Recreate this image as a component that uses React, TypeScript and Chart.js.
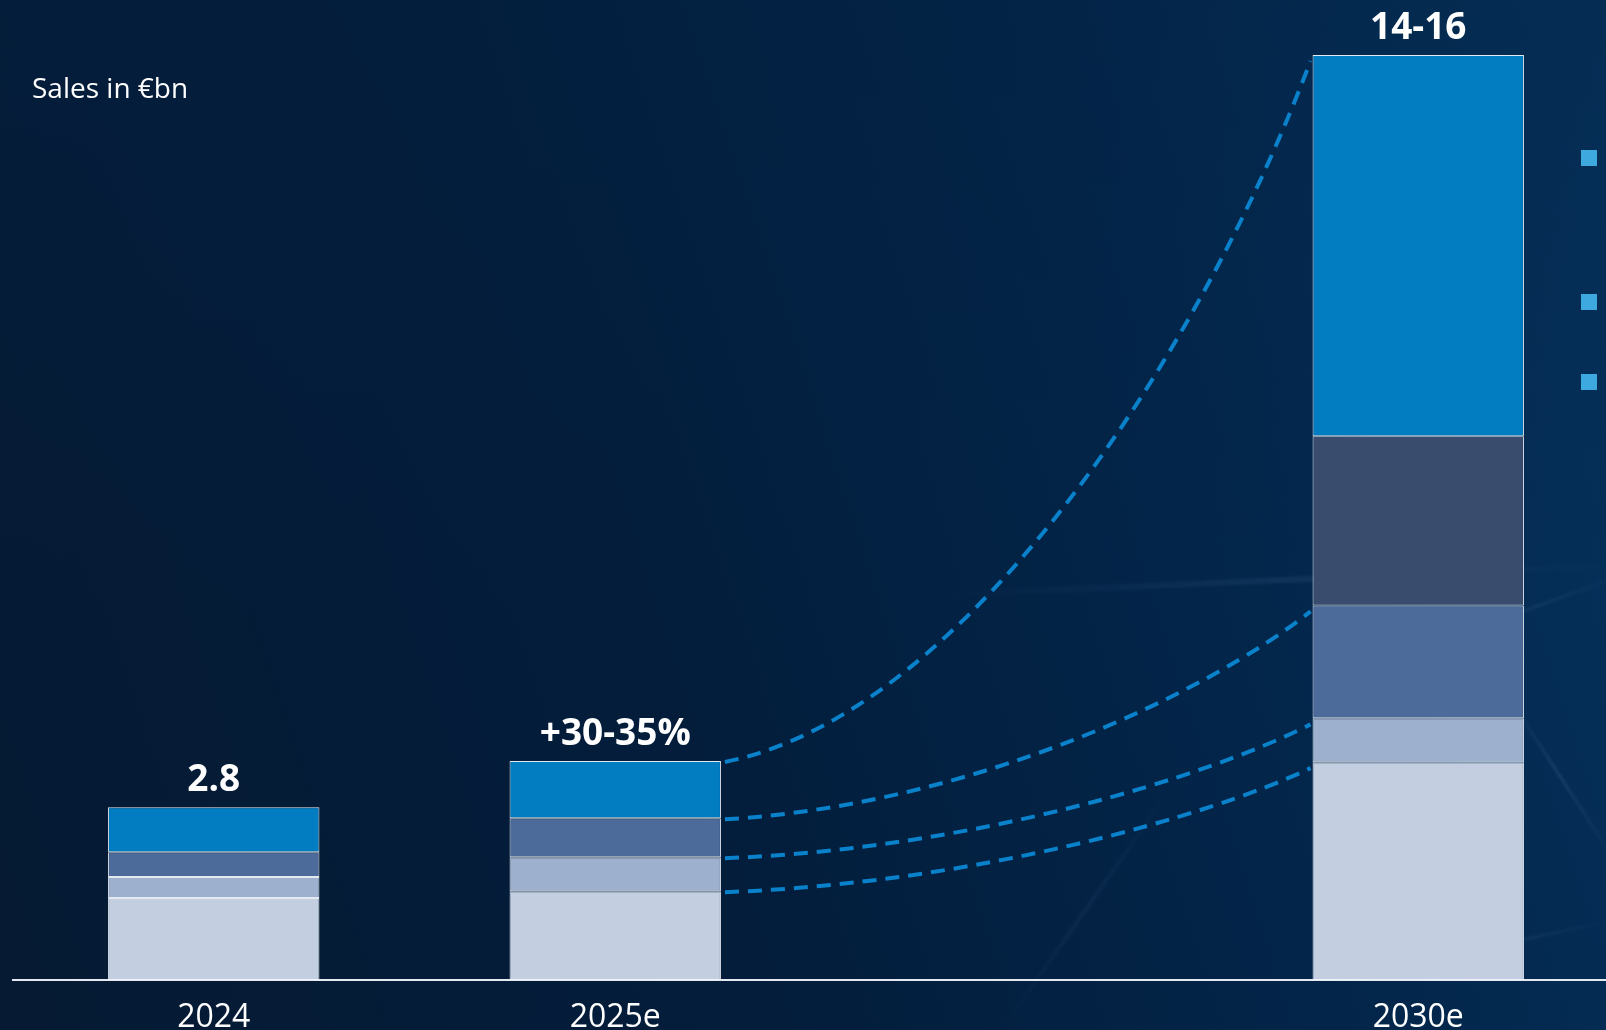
import React, { useEffect, useRef } from 'react';
import { Chart, registerables } from 'chart.js';

Chart.register(...registerables);

// ---- data (€bn) ----
const CATEGORIES = ['2024', '2025e', '', '2030e'];
const SEG_BASE = [1.33, 1.44, null, 3.53];
const SEG_LIGHT_BLUE = [0.34, 0.55, null, 0.71];
const SEG_MID_BLUE = [0.4, 0.63, null, 1.83];
const SEG_SLATE = [null, null, null, 2.74];
const SEG_BRIGHT = [0.73, 0.93, null, 6.18];
const TOTAL_LABELS = ['2.8', '+30-35%', '', '14-16'];
const SERIES_NAMES = ['Segment 1', 'Segment 2', 'Segment 3', 'Segment 4', 'Segment 5'];
// connectors from 2025e to 2030e, joining the top of these stacked datasets
const CONNECTOR_FROM = 1;
const CONNECTOR_TO = 3;
const CONNECTOR_LEVELS = [0, 1, 2, 4];

const COLORS = ['#c3cfe1', '#9db0ce', '#4c6b9a', '#394c6d', '#037dc1'];
const FONT = '"Open Sans", "Noto Sans", sans-serif';

const stackTopsPlugin = {
  id: 'stackTops',
  afterDatasetsDraw(chart: any) {
    const { ctx } = chart;
    const n = chart.data.datasets.length;
    // top labels
    ctx.save();
    ctx.fillStyle = '#ffffff';
    ctx.font = `bold 37px ${FONT}`;
    ctx.textAlign = 'center';
    ctx.textBaseline = 'alphabetic';
    TOTAL_LABELS.forEach((lab, i) => {
      if (!lab) return;
      let topY = Infinity;
      let cx = 0;
      for (let d = 0; d < n; d++) {
        const el = chart.getDatasetMeta(d).data[i];
        const v = chart.data.datasets[d].data[i];
        if (el && v != null) {
          topY = Math.min(topY, el.y);
          cx = el.x;
        }
      }
      if (topY < Infinity) ctx.fillText(lab, cx, topY - 16);
    });
    ctx.restore();

    // dashed connectors
    ctx.save();
    ctx.strokeStyle = '#0a82cb';
    ctx.lineWidth = 4;
    ctx.setLineDash([14, 9]);
    CONNECTOR_LEVELS.forEach((d) => {
      const a = chart.getDatasetMeta(d).data[CONNECTOR_FROM];
      const b = chart.getDatasetMeta(d).data[CONNECTOR_TO];
      if (!a || !b) return;
      const x0 = a.x + a.width / 2 + 4;
      const y0 = a.y + 1;
      const x3 = b.x - b.width / 2 - 2;
      const y3 = b.y + 6;
      const dx = x3 - x0;
      const dy = y3 - y0;
      ctx.beginPath();
      ctx.moveTo(x0, y0);
      ctx.bezierCurveTo(x0 + 0.42 * dx, y0 + 0.07 * dy, x0 + 0.82 * dx, y0 + 0.6 * dy, x3, y3);
      ctx.stroke();
    });
    ctx.restore();
  },
};

export default function App() {
  const canvasRef = useRef<HTMLCanvasElement | null>(null);

  useEffect(() => {
    if (!canvasRef.current) return;
    const series = [SEG_BASE, SEG_LIGHT_BLUE, SEG_MID_BLUE, SEG_SLATE, SEG_BRIGHT];
    const chart = new Chart(canvasRef.current, {
      type: 'bar',
      data: {
        labels: CATEGORIES,
        datasets: series.map((s, i) => ({
          label: SERIES_NAMES[i],
          data: s,
          backgroundColor: COLORS[i],
          borderColor: 'rgba(240,244,250,0.95)',
          borderWidth: 1,
          borderSkipped: false,
          barPercentage: 0.5265,
          categoryPercentage: 1,
          stack: 'total',
        })),
      },
      options: {
        responsive: false,
        animation: false,
        layout: { padding: { left: 13, right: 0, top: 0, bottom: 0 } },
        plugins: {
          legend: { display: false },
          tooltip: { enabled: false },
        },
        scales: {
          x: {
            stacked: true,
            offset: true,
            grid: { display: false, drawTicks: false },
            border: { display: true, color: '#e4e9f1', width: 2 },
            ticks: {
              color: '#ffffff',
              font: { family: FONT, size: 32 },
              padding: 19,
              maxRotation: 0,
              autoSkip: false,
            },
            afterFit: (s: any) => {
              s.height = 50;
            },
          },
          y: {
            stacked: true,
            display: false,
            min: 0,
            max: 15.88,
          },
        },
      },
      plugins: [stackTopsPlugin],
    });
    return () => chart.destroy();
  }, []);

  const square = (top: number) => (
    <div
      style={{
        position: 'absolute',
        left: 1581,
        top,
        width: 16,
        height: 16,
        background: '#3ea9de',
      }}
    />
  );

  const streak = (left: number, top: number, width: number, angle: number, opacity: number, h = 3) => (
    <div
      style={{
        position: 'absolute',
        left,
        top,
        width,
        height: h,
        background: `linear-gradient(90deg, rgba(120,160,210,0) 0%, rgba(120,160,210,${opacity}) 50%, rgba(120,160,210,0) 100%)`,
        transform: `rotate(${angle}deg)`,
        transformOrigin: '0 50%',
        filter: 'blur(1px)',
      }}
    />
  );

  return (
    <div
      style={{
        position: 'fixed',
        left: 0,
        top: 0,
        width: 1606,
        height: 1030,
        overflow: 'hidden',
        background:
          'linear-gradient(180deg, rgba(3,32,64,0.35) 0%, rgba(3,32,64,0) 60%), linear-gradient(72deg, #061a33 0%, #031d3b 40%, #03264b 72%, #06345f 100%)',
      }}
    >
      {streak(940, 592, 680, -2.5, 0.1, 6)}
      {streak(1505, 690, 200, 57, 0.15)}
      {streak(1440, 640, 200, -20, 0.1)}
      {streak(1000, 1030, 300, -55, 0.07, 4)}
      {streak(1420, 960, 200, -12, 0.1)}
      <canvas
        ref={canvasRef}
        width={1619}
        height={1030}
        style={{ position: 'absolute', left: 0, top: 0, width: 1619, height: 1030 }}
      />
      <div
        style={{
          position: 'absolute',
          left: 32,
          top: 73,
          fontFamily: FONT,
          fontSize: 28,
          lineHeight: '28px',
          color: '#ffffff',
          whiteSpace: 'nowrap',
        }}
      >
        Sales in €bn
      </div>
      {square(150)}
      {square(294)}
      {square(374)}
    </div>
  );
}
